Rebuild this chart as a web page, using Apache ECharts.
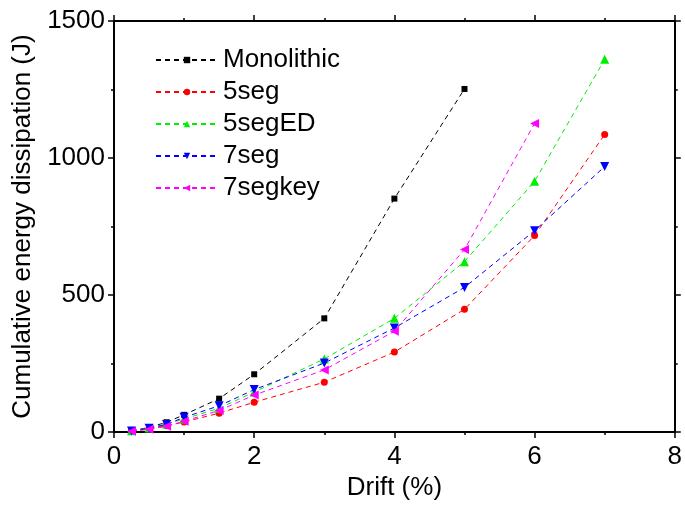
<!DOCTYPE html>
<html><head><meta charset="utf-8">
<script src="https://cdn.jsdelivr.net/npm/echarts@6/dist/echarts.min.js"></script>
<style>html,body{margin:0;padding:0;background:#fff}#c{width:685px;height:506px}</style>
</head><body><div id="c"></div>
<script>
const drift = [0.25, 0.5, 0.75, 1, 1.5, 2, 3, 4, 5, 6, 7];
const monolithic = [5, 17, 36, 63, 122, 211, 415, 852, 1252];
const seg5 = [3, 12, 23, 37, 69, 109, 182, 292, 448, 717, 1086];
const seg5ED = [5, 15, 30, 48, 87, 146, 267, 415, 622, 915, 1360];
const seg7 = [4, 14, 28, 54, 96, 155, 252, 380, 528, 735, 969];
const seg7key = [3, 10, 21, 40, 79, 135, 227, 368, 666, 1126];
const xTicks = [0, 2, 4, 6, 8];
const yTicks = [0, 500, 1000, 1500];

const F = 'Liberation Sans, Arial, sans-serif';
const FS = 26;
function pts(vals){ return vals.map((v,i)=>[drift[i], v]); }
const defs = [
  {name:'Monolithic', data:monolithic, color:'#000000', symbol:'rect', size:6},
  {name:'5seg', data:seg5, color:'#ff0000', symbol:'circle', size:7},
  {name:'5segED', data:seg5ED, color:'#00ee00', symbol:'triangle', size:9},
  {name:'7seg', data:seg7, color:'#0000ff', symbol:'path://M0,0L10,0L5,9Z', size:9},
  {name:'7segkey', data:seg7key, color:'#ff00ff', symbol:'path://M0,5L9,0L9,10Z', size:9}
];
const chart = echarts.init(document.getElementById('c'), null, {renderer:'canvas'});
const axisBase = {
  axisLine:{show:true, onZero:false, lineStyle:{color:'#000', width:2}},
  splitLine:{show:false},
  minorTick:{show:true, splitNumber:2, length:3, lineStyle:{color:'#000', width:1.5}},
  axisTick:{show:true, inside:false, length:6, lineStyle:{color:'#000', width:1.5}}
};
const fmt = v => String(v);
chart.setOption({
  animation:false,
  grid:{left:114, right:8, top:21, bottom:72, containLabel:false},
  legend:{
    orient:'vertical', left:150, top:42, itemWidth:62, itemHeight:8, itemGap:6,
    textStyle:{fontFamily:F, fontSize:FS, lineHeight:26, color:'#000', padding:[0,0,0,0]},
    data: defs.map(d=>d.name)
  },
  xAxis:[
    Object.assign({type:'value', min:0, max:8, interval:2, position:'bottom',
      name:'Drift (%)', nameLocation:'middle', nameGap:42,
      nameTextStyle:{fontFamily:F, fontSize:FS, color:'#000'},
      axisLabel:{fontFamily:F, fontSize:FS, color:'#000', margin:12, formatter:fmt}}, axisBase),
    Object.assign({type:'value', min:0, max:8, interval:2, position:'top',
      axisLabel:{show:false}}, axisBase)
  ],
  yAxis:[
    Object.assign({type:'value', min:0, max:1500, interval:500, position:'left',
      name:'Cumulative energy dissipation (J)', nameLocation:'middle', nameGap:64,
      nameTextStyle:{fontFamily:F, fontSize:FS, color:'#000'},
      axisLabel:{fontFamily:F, fontSize:FS, color:'#000', margin:9, formatter:fmt}}, axisBase),
    Object.assign({type:'value', min:0, max:1500, interval:500, position:'right',
      axisLabel:{show:false}}, axisBase)
  ],
  series: defs.map(d=>({
    name:d.name, type:'line', xAxisIndex:0, yAxisIndex:0,
    data:pts(d.data), symbol:d.symbol, symbolSize:d.size, showAllSymbol:true,
    color:d.color,
    lineStyle:{color:d.color, width:1, type:[5,4]},
    itemStyle:{color:d.color}
  }))
});
</script></body></html>
